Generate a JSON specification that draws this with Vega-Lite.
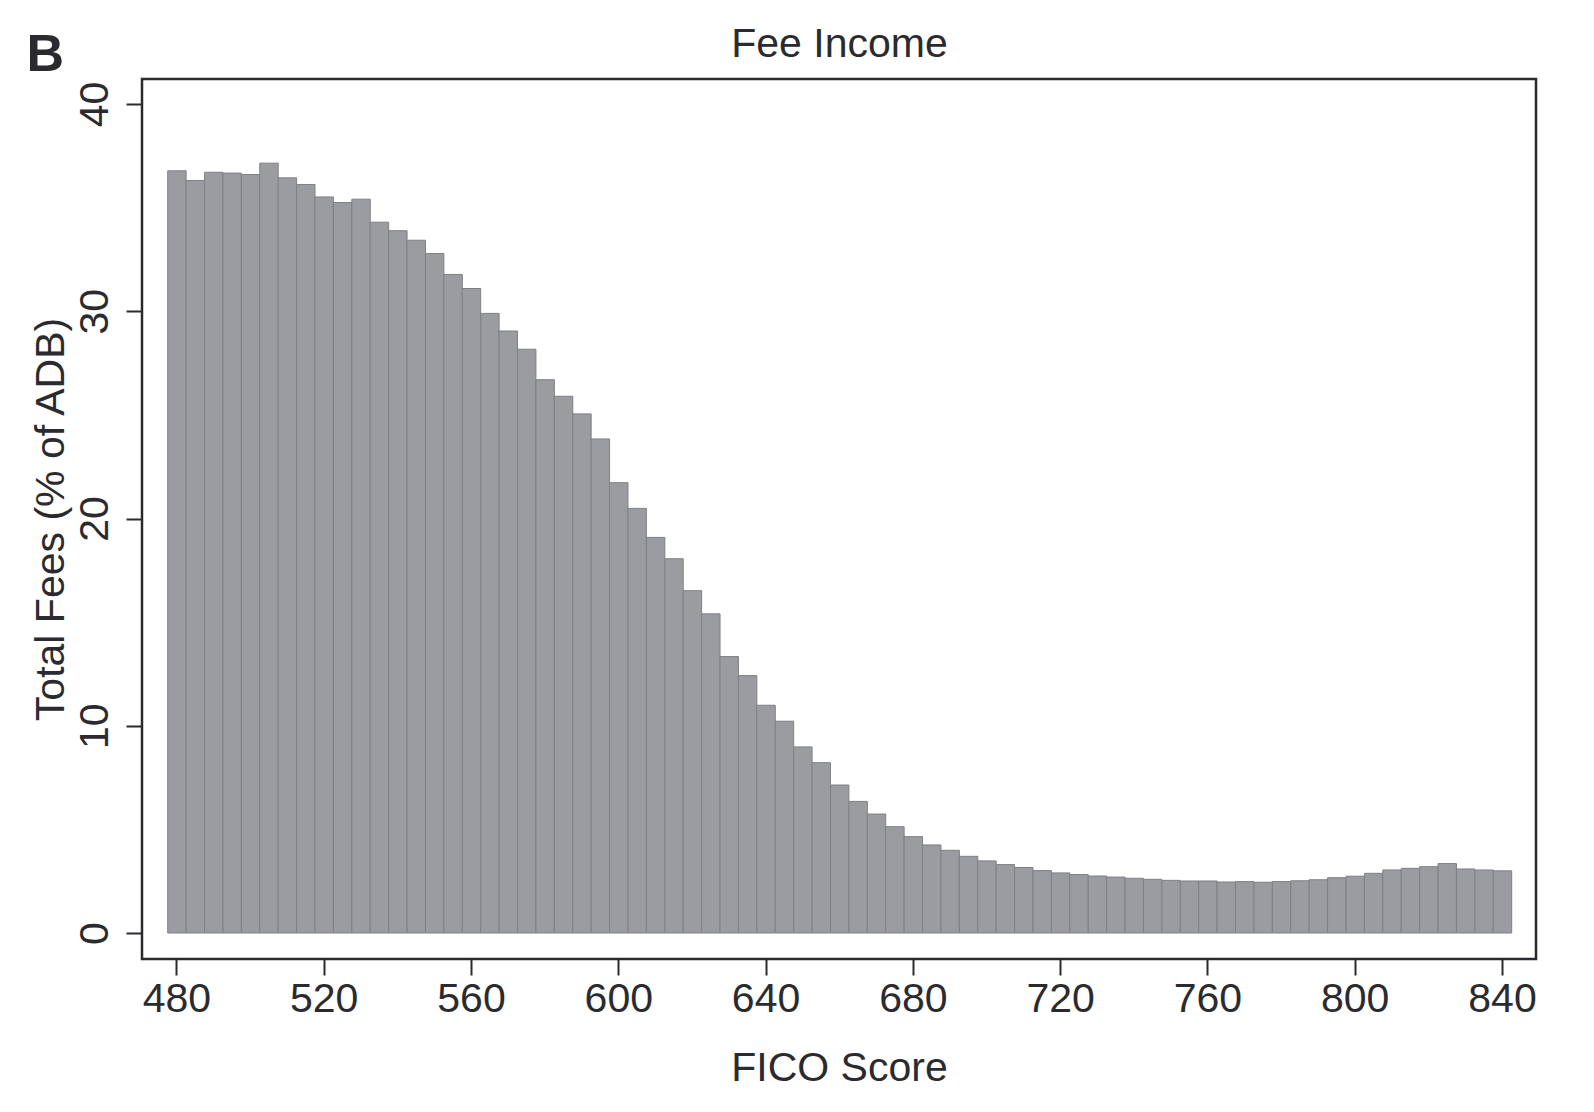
{
  "$schema": "https://vega.github.io/schema/vega-lite/v6.json",
  "width": 1394,
  "height": 880,
  "autosize": "none",
  "padding": {"left": 142, "top": 79, "right": 58, "bottom": 153},
  "background": "white",
  "data": {
    "values": [
      {"fico_lo": 477.5, "fico_hi": 482.5, "fees": 36.78},
      {"fico_lo": 482.5, "fico_hi": 487.5, "fees": 36.31},
      {"fico_lo": 487.5, "fico_hi": 492.5, "fees": 36.71},
      {"fico_lo": 492.5, "fico_hi": 497.5, "fees": 36.67},
      {"fico_lo": 497.5, "fico_hi": 502.5, "fees": 36.6},
      {"fico_lo": 502.5, "fico_hi": 507.5, "fees": 37.15},
      {"fico_lo": 507.5, "fico_hi": 512.5, "fees": 36.44},
      {"fico_lo": 512.5, "fico_hi": 517.5, "fees": 36.12},
      {"fico_lo": 517.5, "fico_hi": 522.5, "fees": 35.52},
      {"fico_lo": 522.5, "fico_hi": 527.5, "fees": 35.25},
      {"fico_lo": 527.5, "fico_hi": 532.5, "fees": 35.41},
      {"fico_lo": 532.5, "fico_hi": 537.5, "fees": 34.3},
      {"fico_lo": 537.5, "fico_hi": 542.5, "fees": 33.89},
      {"fico_lo": 542.5, "fico_hi": 547.5, "fees": 33.43},
      {"fico_lo": 547.5, "fico_hi": 552.5, "fees": 32.79},
      {"fico_lo": 552.5, "fico_hi": 557.5, "fees": 31.78},
      {"fico_lo": 557.5, "fico_hi": 562.5, "fees": 31.1},
      {"fico_lo": 562.5, "fico_hi": 567.5, "fees": 29.9},
      {"fico_lo": 567.5, "fico_hi": 572.5, "fees": 29.05},
      {"fico_lo": 572.5, "fico_hi": 577.5, "fees": 28.17},
      {"fico_lo": 577.5, "fico_hi": 582.5, "fees": 26.7},
      {"fico_lo": 582.5, "fico_hi": 587.5, "fees": 25.9},
      {"fico_lo": 587.5, "fico_hi": 592.5, "fees": 25.05},
      {"fico_lo": 592.5, "fico_hi": 597.5, "fees": 23.84},
      {"fico_lo": 597.5, "fico_hi": 602.5, "fees": 21.73},
      {"fico_lo": 602.5, "fico_hi": 607.5, "fees": 20.49},
      {"fico_lo": 607.5, "fico_hi": 612.5, "fees": 19.09},
      {"fico_lo": 612.5, "fico_hi": 617.5, "fees": 18.06},
      {"fico_lo": 617.5, "fico_hi": 622.5, "fees": 16.52},
      {"fico_lo": 622.5, "fico_hi": 627.5, "fees": 15.4},
      {"fico_lo": 627.5, "fico_hi": 632.5, "fees": 13.34},
      {"fico_lo": 632.5, "fico_hi": 637.5, "fees": 12.42},
      {"fico_lo": 637.5, "fico_hi": 642.5, "fees": 10.99},
      {"fico_lo": 642.5, "fico_hi": 647.5, "fees": 10.22},
      {"fico_lo": 647.5, "fico_hi": 652.5, "fees": 8.98},
      {"fico_lo": 652.5, "fico_hi": 657.5, "fees": 8.22},
      {"fico_lo": 657.5, "fico_hi": 662.5, "fees": 7.14},
      {"fico_lo": 662.5, "fico_hi": 667.5, "fees": 6.35},
      {"fico_lo": 667.5, "fico_hi": 672.5, "fees": 5.74},
      {"fico_lo": 672.5, "fico_hi": 677.5, "fees": 5.13},
      {"fico_lo": 677.5, "fico_hi": 682.5, "fees": 4.65},
      {"fico_lo": 682.5, "fico_hi": 687.5, "fees": 4.25},
      {"fico_lo": 687.5, "fico_hi": 692.5, "fees": 3.99},
      {"fico_lo": 692.5, "fico_hi": 697.5, "fees": 3.7},
      {"fico_lo": 697.5, "fico_hi": 702.5, "fees": 3.48},
      {"fico_lo": 702.5, "fico_hi": 707.5, "fees": 3.3},
      {"fico_lo": 707.5, "fico_hi": 712.5, "fees": 3.16},
      {"fico_lo": 712.5, "fico_hi": 717.5, "fees": 3.01},
      {"fico_lo": 717.5, "fico_hi": 722.5, "fees": 2.9},
      {"fico_lo": 722.5, "fico_hi": 727.5, "fees": 2.82},
      {"fico_lo": 727.5, "fico_hi": 732.5, "fees": 2.75},
      {"fico_lo": 732.5, "fico_hi": 737.5, "fees": 2.7},
      {"fico_lo": 737.5, "fico_hi": 742.5, "fees": 2.64},
      {"fico_lo": 742.5, "fico_hi": 747.5, "fees": 2.59},
      {"fico_lo": 747.5, "fico_hi": 752.5, "fees": 2.54},
      {"fico_lo": 752.5, "fico_hi": 757.5, "fees": 2.51},
      {"fico_lo": 757.5, "fico_hi": 762.5, "fees": 2.51},
      {"fico_lo": 762.5, "fico_hi": 767.5, "fees": 2.46},
      {"fico_lo": 767.5, "fico_hi": 772.5, "fees": 2.48},
      {"fico_lo": 772.5, "fico_hi": 777.5, "fees": 2.45},
      {"fico_lo": 777.5, "fico_hi": 782.5, "fees": 2.48},
      {"fico_lo": 782.5, "fico_hi": 787.5, "fees": 2.52},
      {"fico_lo": 787.5, "fico_hi": 792.5, "fees": 2.57},
      {"fico_lo": 792.5, "fico_hi": 797.5, "fees": 2.67},
      {"fico_lo": 797.5, "fico_hi": 802.5, "fees": 2.74},
      {"fico_lo": 802.5, "fico_hi": 807.5, "fees": 2.88},
      {"fico_lo": 807.5, "fico_hi": 812.5, "fees": 3.04},
      {"fico_lo": 812.5, "fico_hi": 817.5, "fees": 3.12},
      {"fico_lo": 817.5, "fico_hi": 822.5, "fees": 3.2},
      {"fico_lo": 822.5, "fico_hi": 827.5, "fees": 3.35},
      {"fico_lo": 827.5, "fico_hi": 832.5, "fees": 3.09},
      {"fico_lo": 832.5, "fico_hi": 837.5, "fees": 3.04},
      {"fico_lo": 837.5, "fico_hi": 842.5, "fees": 3.0}
    ]
  },
  "layer": [
    {
      "mark": {"type": "bar", "fill": "#9b9ca0", "stroke": "#7f8084", "strokeWidth": 1, "binSpacing": 0},
      "encoding": {
        "x": {
          "field": "fico_lo", "type": "quantitative", "bin": "binned",
          "scale": {"domain": [470.65, 849.24], "nice": false, "zero": false},
          "axis": {
            "orient": "bottom",
            "title": "FICO Score",
            "values": [480, 520, 560, 600, 640, 680, 720, 760, 800, 840],
            "grid": false,
            "domain": false,
            "tickSize": 16,
            "tickWidth": 2,
            "tickColor": "#2b2b2f",
            "labelPadding": 4,
            "labelFont": "Liberation Sans",
            "labelFontSize": 41,
            "labelColor": "#2b2b2f",
            "labelFlush": false,
            "labelOverlap": false,
            "titleFont": "Liberation Sans",
            "titleFontSize": 41,
            "titleFontWeight": "normal",
            "titleColor": "#2b2b2f",
            "titleBaseline": "alphabetic",
            "titleY": 121
          }
        },
        "x2": {"field": "fico_hi"},
        "y": {
          "field": "fees", "type": "quantitative",
          "scale": {"domain": [-1.255, 41.21], "nice": false, "zero": false},
          "axis": {
            "orient": "left",
            "title": "Total Fees (% of ADB)",
            "values": [0, 10, 20, 30, 40],
            "grid": false,
            "domain": false,
            "tickSize": 16,
            "tickWidth": 2,
            "tickColor": "#2b2b2f",
            "labelAngle": 270,
            "labelAlign": "center",
            "labelBaseline": "alphabetic",
            "labelPadding": 19,
            "labelFont": "Liberation Sans",
            "labelFontSize": 41,
            "labelColor": "#2b2b2f",
            "labelFlush": false,
            "labelOverlap": false,
            "titleFont": "Liberation Sans",
            "titleFontSize": 41,
            "titleFontWeight": "normal",
            "titleColor": "#2b2b2f",
            "titleAngle": 270,
            "titleBaseline": "alphabetic",
            "titleX": -79
          }
        },
        "y2": {"datum": 0}
      }
    },
    {
      "mark": {"type": "bar", "opacity": 0, "binSpacing": 0},
      "encoding": {
        "x": {
          "field": "fico_lo", "type": "quantitative", "bin": "binned",
          "axis": {
            "orient": "top",
            "title": "Fee Income",
            "labels": false,
            "ticks": false,
            "domain": false,
            "grid": false,
            "titleFont": "Liberation Sans",
            "titleFontSize": 41,
            "titleFontWeight": "normal",
            "titleColor": "#2b2b2f",
            "titleAngle": 0,
            "titleAlign": "center",
            "titleBaseline": "alphabetic",
            "titleY": -22.6
          }
        },
        "x2": {"field": "fico_hi"},
        "y": {"field": "fees", "type": "quantitative", "axis": null},
        "y2": {"datum": 0}
      }
    },
    {
      "mark": {"type": "bar", "opacity": 0, "binSpacing": 0},
      "encoding": {
        "x": {"field": "fico_lo", "type": "quantitative", "bin": "binned", "axis": null},
        "x2": {"field": "fico_hi"},
        "y": {
          "field": "fees", "type": "quantitative",
          "axis": {
            "orient": "right",
            "title": "B",
            "labels": false,
            "ticks": false,
            "domain": false,
            "grid": false,
            "titleFont": "Liberation Sans",
            "titleFontSize": 52,
            "titleFontWeight": "bold",
            "titleColor": "#2b2b2f",
            "titleAngle": 0,
            "titleAlign": "left",
            "titleBaseline": "alphabetic",
            "titleX": -1510,
            "titleY": -9
          }
        },
        "y2": {"datum": 0}
      }
    }
  ],
  "resolve": {"axis": {"x": "independent", "y": "independent"}},
  "config": {
    "view": {"stroke": "#2b2b2f", "strokeWidth": 2.5},
    "font": "Liberation Sans"
  }
}
